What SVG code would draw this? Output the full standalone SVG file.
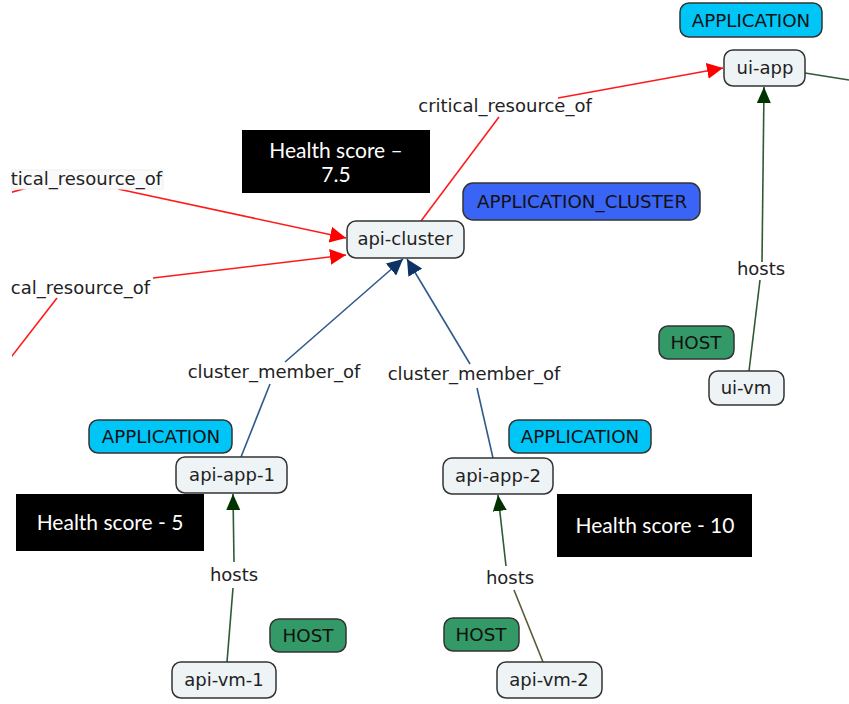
<svg xmlns="http://www.w3.org/2000/svg" width="849" height="704" viewBox="0 0 849 704">
<defs>
<style>
.node rect{fill:#eef3f6;stroke:#333;stroke-width:1.5}
.node text,.lbl{font-family:"DejaVu Sans","Verdana",sans-serif;font-size:18px;fill:#222;text-anchor:middle}
.tag text{font-family:"DejaVu Sans",sans-serif;font-size:18.3px;fill:#111;text-anchor:middle}
.tag rect{stroke:#333;stroke-width:1.5}
.app rect{fill:#00c6f8}
.clu rect{fill:#3a64f6}
.host rect{fill:#339966}
.hs rect{fill:#000}
.hs text{font-family:"Lato","Open Sans",sans-serif;font-size:21px;fill:#fff;text-anchor:middle}
.red{stroke:#ff1a1a;stroke-width:1.6;fill:none}
.blue{stroke:#2f5a8c;stroke-width:1.6;fill:none}
.green{stroke:#2f5a33;stroke-width:1.6;fill:none}
.olive{stroke:#5a5a33;stroke-width:1.6;fill:none}
</style>
<clipPath id="cut"><rect x="12" y="0" width="837" height="704"/></clipPath>
<marker id="ar" markerUnits="userSpaceOnUse" markerWidth="16" markerHeight="16" viewBox="0 0 16 16" refX="16" refY="8" orient="auto"><path d="M0,0 L16,8 L0,16 Z" fill="#ff0000"/></marker>
<marker id="ab" markerUnits="userSpaceOnUse" markerWidth="16" markerHeight="16" viewBox="0 0 16 16" refX="16" refY="8" orient="auto"><path d="M0,0 L16,8 L0,16 Z" fill="#0d3366"/></marker>
<marker id="ag" markerUnits="userSpaceOnUse" markerWidth="16" markerHeight="16" viewBox="0 0 16 16" refX="16" refY="8" orient="auto"><path d="M0,1 L16,8 L0,15 Z" fill="#003300"/></marker>
</defs>

<g id="connectors">
<g clip-path="url(#cut)">
<line class="red" x1="421" y1="221" x2="499" y2="117"/>
<line class="red" x1="558" y1="98" x2="723" y2="68" marker-end="url(#ar)"/>
<line class="red" x1="118" y1="189" x2="346" y2="238" marker-end="url(#ar)"/>
<line class="red" x1="153" y1="278" x2="346" y2="255" marker-end="url(#ar)"/>
<line class="red" x1="5" y1="194" x2="27" y2="188"/>
<line class="red" x1="57" y1="298" x2="5" y2="365"/>
<line class="blue" x1="241" y1="457" x2="270" y2="384"/>
<line class="blue" x1="285" y1="362" x2="403" y2="259" marker-end="url(#ab)"/>
<line class="blue" x1="493" y1="458" x2="477" y2="388"/>
<line class="blue" x1="470" y1="364" x2="407" y2="259" marker-end="url(#ab)"/>
<line class="green" x1="749" y1="371" x2="760" y2="280"/>
<line class="green" x1="762" y1="262" x2="764" y2="87" marker-end="url(#ag)"/>
<line class="green" x1="805" y1="73" x2="849" y2="80"/>
<line class="green" x1="227" y1="662" x2="233" y2="588"/>
<line class="green" x1="234" y1="562" x2="233" y2="494" marker-end="url(#ag)"/>
<line class="olive" x1="543" y1="662" x2="514" y2="590"/>
<line class="green" x1="506" y1="566" x2="498" y2="495" marker-end="url(#ag)"/>
</g>
<text class="lbl" x="505" y="112">critical_resource_of</text>
<rect x="12" y="170" width="151" height="19" fill="#fafafa" stroke="#f0f0f0"/>
<text class="lbl" x="162" y="185" style="text-anchor:end">tical_resource_of</text>
<text class="lbl" x="150" y="294" style="text-anchor:end">cal_resource_of</text>
<text class="lbl" x="274" y="378">cluster_member_of</text>
<text class="lbl" x="474" y="380">cluster_member_of</text>
<text class="lbl" x="761" y="275">hosts</text>
<text class="lbl" x="234" y="581">hosts</text>
<text class="lbl" x="510" y="584">hosts</text>
</g>

<g id="tag-application-ui" class="tag app"><rect x="680" y="3" width="142" height="34" rx="9"/><text x="751" y="26.5">APPLICATION</text></g>
<g id="tag-application-cluster" class="tag clu"><rect x="463" y="183" width="237" height="37" rx="10"/><text x="582" y="208">APPLICATION_CLUSTER</text></g>
<g id="tag-host-ui" class="tag host"><rect x="659" y="326" width="75" height="33" rx="9"/><text x="696" y="349">HOST</text></g>
<g id="tag-application-1" class="tag app"><rect x="89" y="420" width="143" height="33" rx="9"/><text x="161" y="443">APPLICATION</text></g>
<g id="tag-application-2" class="tag app"><rect x="509" y="420" width="142" height="33" rx="9"/><text x="580" y="443">APPLICATION</text></g>
<g id="tag-host-1" class="tag host"><rect x="270" y="619" width="76" height="33" rx="9"/><text x="308" y="642">HOST</text></g>
<g id="tag-host-2" class="tag host"><rect x="444" y="618" width="75" height="33" rx="9"/><text x="481" y="641">HOST</text></g>

<g id="ui-app" class="node"><rect x="724" y="50" width="81" height="36" rx="9"/><text x="765" y="74">ui-app</text></g>
<g id="api-cluster" class="node"><rect x="347" y="221" width="117" height="37" rx="9"/><text x="405" y="245">api-cluster</text></g>
<g id="ui-vm" class="node"><rect x="709" y="371" width="75" height="34" rx="9"/><text x="746" y="394">ui-vm</text></g>
<g id="api-app-1" class="node"><rect x="176" y="457" width="111" height="36" rx="9"/><text x="232" y="481">api-app-1</text></g>
<g id="api-app-2" class="node"><rect x="443" y="458" width="110" height="36" rx="9"/><text x="498" y="482">api-app-2</text></g>
<g id="api-vm-1" class="node"><rect x="172" y="662" width="104" height="36" rx="9"/><text x="224" y="686">api-vm-1</text></g>
<g id="api-vm-2" class="node"><rect x="497" y="662" width="105" height="36" rx="9"/><text x="549" y="686">api-vm-2</text></g>

<g id="health-cluster" class="hs"><rect x="242" y="130" width="188" height="63"/><text x="336" y="158">Health score –</text><text x="336" y="182">7.5</text></g>
<g id="health-app-1" class="hs"><rect x="16" y="494" width="188" height="57"/><text x="110" y="530">Health score - 5</text></g>
<g id="health-app-2" class="hs"><rect x="557" y="494" width="195" height="63"/><text x="655" y="533">Health score - 10</text></g>
</svg>
